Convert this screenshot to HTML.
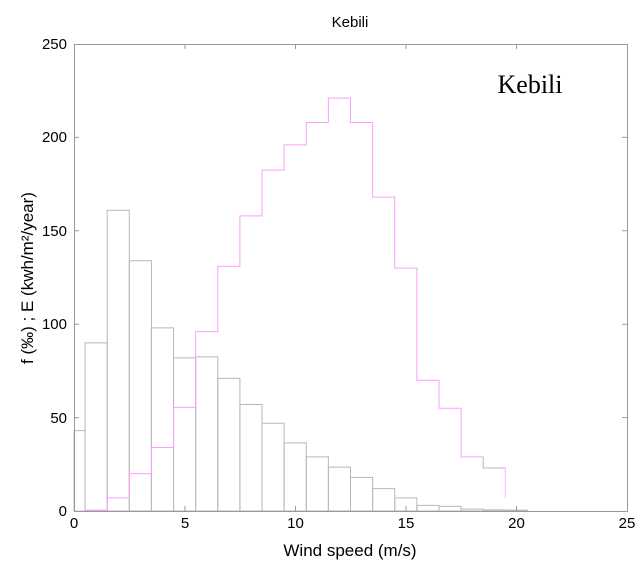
<!DOCTYPE html>
<html><head><meta charset="utf-8"><style>
body{margin:0;background:#fff;}
svg{display:block;font-family:"Liberation Sans",Arial,sans-serif;}
</style></head><body>
<svg width="640" height="576" viewBox="0 0 640 576">
<rect width="640" height="576" fill="#fff"/>
<text x="350" y="27" font-size="15" text-anchor="middle">Kebili</text>
<g transform="translate(74,511) scale(22.12,-1.868)" fill="none" stroke="#b8b8b8" stroke-width="1">
<g vector-effect="non-scaling-stroke">
<rect x="0" y="0" width="0.5" height="43" vector-effect="non-scaling-stroke"/>
<rect x="0.5" y="0" width="1" height="90" vector-effect="non-scaling-stroke"/>
<rect x="1.5" y="0" width="1" height="161" vector-effect="non-scaling-stroke"/>
<rect x="2.5" y="0" width="1" height="134" vector-effect="non-scaling-stroke"/>
<rect x="3.5" y="0" width="1" height="98" vector-effect="non-scaling-stroke"/>
<rect x="4.5" y="0" width="1" height="82" vector-effect="non-scaling-stroke"/>
<rect x="5.5" y="0" width="1" height="82.5" vector-effect="non-scaling-stroke"/>
<rect x="6.5" y="0" width="1" height="71" vector-effect="non-scaling-stroke"/>
<rect x="7.5" y="0" width="1" height="57" vector-effect="non-scaling-stroke"/>
<rect x="8.5" y="0" width="1" height="47" vector-effect="non-scaling-stroke"/>
<rect x="9.5" y="0" width="1" height="36.5" vector-effect="non-scaling-stroke"/>
<rect x="10.5" y="0" width="1" height="29" vector-effect="non-scaling-stroke"/>
<rect x="11.5" y="0" width="1" height="23.5" vector-effect="non-scaling-stroke"/>
<rect x="12.5" y="0" width="1" height="18" vector-effect="non-scaling-stroke"/>
<rect x="13.5" y="0" width="1" height="12" vector-effect="non-scaling-stroke"/>
<rect x="14.5" y="0" width="1" height="7" vector-effect="non-scaling-stroke"/>
<rect x="15.5" y="0" width="1" height="3" vector-effect="non-scaling-stroke"/>
<rect x="16.5" y="0" width="1" height="2.5" vector-effect="non-scaling-stroke"/>
<rect x="17.5" y="0" width="1" height="1" vector-effect="non-scaling-stroke"/>
<rect x="18.5" y="0" width="1" height="0.6" vector-effect="non-scaling-stroke"/>
<rect x="19.5" y="0" width="1" height="0.5" vector-effect="non-scaling-stroke"/>
</g>
<path d="M18.5,29 V23 H19.5" vector-effect="non-scaling-stroke"/>
<path d="M0,0 H0.5 V0.5 H1.5 V7 H2.5 V20 H3.5 V34 H4.5 V55.5 H5.5 V96 H6.5 V131 H7.5 V158 H8.5 V182.5 H9.5 V196 H10.5 V208 H11.5 V221 H12.5 V208 H13.5 V168 H14.5 V130 H15.5 V70 H16.5 V55 H17.5 V29 H18.5" stroke="#ff9cff" vector-effect="non-scaling-stroke"/>
<path d="M19.5,23 V7" stroke="#ffb0ff" vector-effect="non-scaling-stroke"/>
</g>
<rect x="74.5" y="44.5" width="553" height="467" fill="none" stroke="#999" stroke-width="1"/>
<g stroke="#999" stroke-width="1">
<path d="M74.5,511 v-5 M74.5,44 v5 M185,511 v-5 M185,44 v5 M295.5,511 v-5 M295.5,44 v5 M406,511 v-5 M406,44 v5 M516.5,511 v-5 M516.5,44 v5"/>
<path d="M74,417.6 h5 M627,417.6 h-5 M74,324.2 h5 M627,324.2 h-5 M74,230.8 h5 M627,230.8 h-5 M74,137.4 h5 M627,137.4 h-5"/>
</g>
<g font-size="15" text-anchor="middle">
<text x="74" y="528">0</text><text x="185" y="528">5</text><text x="295.5" y="528">10</text><text x="406" y="528">15</text><text x="516.5" y="528">20</text><text x="627" y="528">25</text>
</g>
<g font-size="15" text-anchor="end">
<text x="67" y="516">0</text><text x="67" y="423">50</text><text x="67" y="329">100</text><text x="67" y="236">150</text><text x="67" y="142">200</text><text x="67" y="49">250</text>
</g>
<text x="350" y="556" font-size="17" text-anchor="middle">Wind speed (m/s)</text>
<text transform="translate(33,278) rotate(-90)" font-size="17" text-anchor="middle">f (‰) ; E (kwh/m²/year)</text>
<text x="530" y="93" font-size="26" text-anchor="middle" font-family="Liberation Serif,serif">Kebili</text>
</svg>
</body></html>
